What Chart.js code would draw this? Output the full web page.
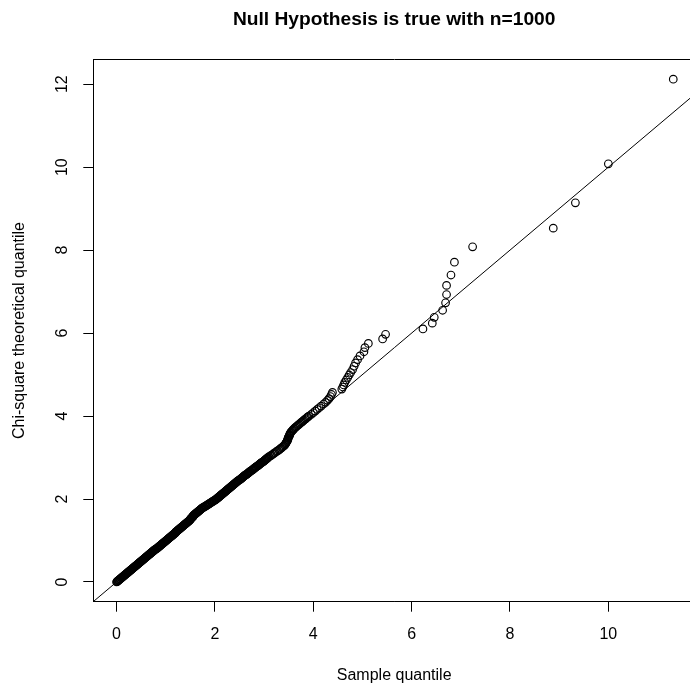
<!DOCTYPE html>
<html>
<head>
<meta charset="utf-8">
<script src="https://cdn.jsdelivr.net/npm/chart.js@4/dist/chart.umd.min.js"></script>
<style>
html,body{margin:0;padding:0;background:#fff;overflow:hidden;width:690px;height:690px;}
canvas{display:block;}
</style>
</head>
<body>
<canvas id="c" width="700" height="690" style="width:700px;height:690px"></canvas>
<script>
// Sample quantiles (x)
const sampleQuantile = [
0.00,0.01,0.02,0.03,0.04,0.05,0.06,0.07,0.08,0.09,
0.10,0.11,0.12,0.13,0.14,0.15,0.16,0.17,0.18,0.19,
0.20,0.21,0.22,0.23,0.24,0.25,0.26,0.27,0.28,0.29,
0.30,0.31,0.32,0.33,0.34,0.35,0.36,0.37,0.38,0.39,
0.40,0.41,0.42,0.43,0.44,0.45,0.46,0.47,0.48,0.49,
0.50,0.51,0.52,0.53,0.54,0.55,0.56,0.57,0.58,0.59,
0.60,0.61,0.62,0.63,0.64,0.65,0.66,0.67,0.68,0.69,
0.70,0.71,0.72,0.73,0.74,0.75,0.76,0.77,0.78,0.79,
0.81,0.82,0.83,0.84,0.85,0.86,0.87,0.88,0.89,0.90,
0.91,0.92,0.93,0.94,0.95,0.96,0.97,0.98,0.99,1.00,
1.01,1.02,1.03,1.04,1.05,1.06,1.07,1.08,1.09,1.10,
1.11,1.12,1.13,1.14,1.15,1.16,1.17,1.18,1.19,1.20,
1.20,1.21,1.22,1.23,1.24,1.25,1.26,1.27,1.28,1.29,
1.30,1.31,1.32,1.33,1.34,1.35,1.36,1.37,1.38,1.39,
1.40,1.41,1.42,1.43,1.44,1.45,1.46,1.47,1.48,1.49,
1.49,1.50,1.51,1.51,1.52,1.53,1.54,1.55,1.55,1.56,
1.56,1.57,1.58,1.59,1.60,1.61,1.62,1.63,1.64,1.65,
1.66,1.67,1.68,1.69,1.70,1.71,1.72,1.73,1.74,1.75,
1.77,1.78,1.80,1.81,1.82,1.84,1.85,1.86,1.88,1.89,
1.90,1.91,1.93,1.94,1.95,1.97,1.98,1.99,2.01,2.02,
2.03,2.04,2.05,2.06,2.07,2.08,2.09,2.10,2.11,2.12,
2.13,2.14,2.15,2.16,2.17,2.18,2.19,2.20,2.21,2.22,
2.23,2.24,2.25,2.26,2.27,2.28,2.29,2.30,2.31,2.32,
2.33,2.34,2.35,2.36,2.37,2.38,2.39,2.40,2.41,2.42,
2.43,2.44,2.45,2.46,2.47,2.48,2.50,2.51,2.52,2.53,
2.54,2.55,2.56,2.57,2.58,2.59,2.60,2.61,2.62,2.64,
2.65,2.66,2.67,2.68,2.69,2.70,2.71,2.72,2.73,2.75,
2.76,2.77,2.78,2.79,2.80,2.81,2.82,2.83,2.84,2.86,
2.87,2.88,2.89,2.90,2.91,2.92,2.93,2.94,2.95,2.97,
2.98,2.99,3.00,3.01,3.02,3.03,3.04,3.05,3.06,3.07,
3.08,3.10,3.13,3.15,3.18,3.20,3.22,3.25,3.27,3.30,
3.32,3.34,3.36,3.38,3.40,3.42,3.43,3.44,3.45,3.46,
3.47,3.48,3.48,3.49,3.49,3.50,3.51,3.52,3.52,3.53,
3.54,3.55,3.57,3.58,3.60,3.61,3.63,3.65,3.67,3.69,
3.71,3.73,3.75,3.77,3.79,3.81,3.83,3.85,3.87,3.89,
3.91,3.96,4.00,4.04,4.08,4.12,4.16,4.21,4.25,4.29,4.32,4.35,4.37,4.39,
4.58,4.60,4.62,4.64,4.67,4.70,4.73,4.76,4.80,4.83,4.86,4.90,4.95,
5.03,5.05,5.12,5.41,5.47,6.23,6.42,6.46,6.63,6.69,6.71,6.71,6.80,6.87,7.24,8.88,9.33,10.00,11.32
];
// Chi-square theoretical quantiles (y)
const chisqQuantile = [
0.00,0.01,0.02,0.03,0.04,0.05,0.06,0.07,0.08,0.09,
0.10,0.11,0.12,0.13,0.14,0.15,0.16,0.17,0.18,0.19,
0.20,0.21,0.22,0.23,0.24,0.25,0.26,0.27,0.28,0.29,
0.30,0.31,0.32,0.33,0.34,0.35,0.36,0.37,0.38,0.39,
0.40,0.41,0.42,0.43,0.44,0.45,0.46,0.47,0.48,0.49,
0.50,0.51,0.52,0.53,0.54,0.55,0.56,0.57,0.58,0.59,
0.60,0.61,0.62,0.63,0.64,0.65,0.66,0.67,0.68,0.69,
0.70,0.71,0.72,0.73,0.74,0.75,0.76,0.77,0.78,0.79,
0.80,0.81,0.82,0.83,0.84,0.85,0.86,0.87,0.88,0.89,
0.90,0.91,0.92,0.93,0.94,0.95,0.96,0.97,0.98,0.99,
1.00,1.01,1.02,1.03,1.04,1.05,1.06,1.07,1.08,1.09,
1.10,1.11,1.12,1.13,1.14,1.15,1.16,1.17,1.18,1.19,
1.20,1.21,1.22,1.23,1.24,1.25,1.26,1.27,1.28,1.29,
1.30,1.31,1.32,1.33,1.34,1.35,1.36,1.37,1.38,1.39,
1.40,1.41,1.42,1.43,1.44,1.45,1.46,1.47,1.48,1.49,
1.50,1.51,1.52,1.53,1.54,1.55,1.56,1.57,1.58,1.59,
1.60,1.61,1.62,1.63,1.64,1.65,1.66,1.67,1.68,1.69,
1.70,1.71,1.72,1.73,1.74,1.75,1.76,1.77,1.78,1.79,
1.80,1.81,1.82,1.83,1.84,1.85,1.86,1.87,1.88,1.89,
1.90,1.91,1.92,1.93,1.94,1.95,1.96,1.97,1.98,1.99,
2.00,2.01,2.02,2.03,2.04,2.05,2.06,2.07,2.08,2.09,
2.10,2.11,2.12,2.13,2.14,2.15,2.16,2.17,2.18,2.19,
2.20,2.21,2.22,2.23,2.24,2.25,2.26,2.27,2.28,2.29,
2.30,2.31,2.32,2.33,2.34,2.35,2.36,2.37,2.38,2.39,
2.40,2.41,2.42,2.43,2.44,2.45,2.46,2.47,2.48,2.49,
2.50,2.51,2.52,2.53,2.54,2.55,2.56,2.57,2.58,2.59,
2.60,2.61,2.62,2.63,2.64,2.65,2.66,2.67,2.68,2.69,
2.70,2.71,2.72,2.73,2.74,2.75,2.76,2.77,2.78,2.79,
2.80,2.81,2.82,2.83,2.84,2.85,2.86,2.87,2.88,2.89,
2.90,2.91,2.92,2.93,2.94,2.95,2.96,2.97,2.98,2.99,
3.00,3.02,3.04,3.06,3.08,3.10,3.12,3.14,3.16,3.18,
3.20,3.22,3.24,3.26,3.28,3.30,3.32,3.34,3.36,3.38,
3.40,3.42,3.44,3.46,3.48,3.50,3.52,3.54,3.56,3.58,
3.60,3.62,3.64,3.66,3.68,3.70,3.72,3.74,3.76,3.78,
3.80,3.82,3.84,3.86,3.88,3.90,3.92,3.94,3.96,3.98,
4.00,4.04,4.08,4.12,4.16,4.20,4.24,4.29,4.33,4.38,4.42,4.47,4.52,4.57,
4.65,4.70,4.75,4.81,4.87,4.93,4.99,5.05,5.12,5.20,5.28,5.36,5.45,
5.55,5.65,5.75,5.86,5.97,6.10,6.24,6.38,6.55,6.73,6.93,7.15,7.40,7.71,8.08,8.53,9.14,10.08,12.12
];
// Reference line y = x
const refLineX = [-1, 14];
const refLineY = [-1, 14];
const xTickValues = [0, 2, 4, 6, 8, 10];
const yTickValues = [0, 2, 4, 6, 8, 10, 12];
const titleText = 'Null Hypothesis is true with n=1000';
const xTitle = 'Sample quantile';
const yTitle = 'Chi-square theoretical quantile';

const points = sampleQuantile.map((x, i) => ({x: x, y: chisqQuantile[i]}));
const line = refLineX.map((x, i) => ({x: x, y: refLineY[i]}));

const FONT = "'Liberation Sans', Arial, Helvetica, sans-serif";

const boxPlugin = {
  id: 'box',
  afterDatasetsDraw(chart) {
    const a = chart.chartArea, ctx = chart.ctx;
    ctx.save();
    ctx.strokeStyle = '#000';
    ctx.lineWidth = 1;
    ctx.beginPath();
    ctx.rect(Math.round(a.left) + 0.5, Math.round(a.top) + 0.5, Math.round(a.right - a.left), Math.round(a.bottom - a.top));
    ctx.stroke();
    ctx.restore();
  }
};

new Chart(document.getElementById('c'), {
  data: {
    datasets: [
      {
        type: 'scatter',
        data: points,
        pointStyle: 'circle',
        pointRadius: 3.8,
        pointHoverRadius: 3.8,
        borderWidth: 1.15,
        borderColor: '#000',
        backgroundColor: 'rgba(0,0,0,0)',
        order: 2
      },
      {
        type: 'line',
        data: line,
        borderColor: '#000',
        borderWidth: 1,
        pointRadius: 0,
        fill: false,
        tension: 0,
        order: 1
      }
    ]
  },
  options: {
    responsive: false,
    animation: false,
    events: [],
    layout: { padding: { left: 0, top: 0, bottom: 0, right: 1 } },
    plugins: {
      legend: { display: false },
      tooltip: { enabled: false },
      title: {
        display: true,
        text: titleText,
        fullSize: false,
        color: '#000',
        font: { family: FONT, size: 19.2, weight: 'bold', lineHeight: 1.2 },
        padding: { top: 8.5, bottom: 27.76 }
      }
    },
    scales: {
      x: {
        type: 'linear',
        position: 'bottom',
        min: -0.473,
        max: 11.763,
        afterFit(s) { s.height = 88.3; },
        afterBuildTicks(s) { s.ticks = xTickValues.map(v => ({value: v})); },
        ticks: { color: '#000', font: { family: FONT, size: 16 }, padding: 13.2, maxRotation: 0, includeBounds: false, autoSkip: false },
        grid: { drawOnChartArea: false, drawTicks: true, tickLength: 10, color: '#000', tickColor: '#000', lineWidth: 1 },
        border: { display: true, color: '#000', width: 1 },
        title: { display: true, text: xTitle, color: '#000', font: { family: FONT, size: 16, lineHeight: 1.2 }, padding: { top: 0, bottom: 4.4 } }
      },
      y: {
        type: 'linear',
        position: 'left',
        min: -0.475,
        max: 12.60,
        afterFit(s) { s.width = 93.3; },
        afterBuildTicks(s) { s.ticks = yTickValues.map(v => ({value: v})); },
        ticks: { color: '#000', font: { family: FONT, size: 16 }, padding: 11.4, minRotation: 90, maxRotation: 90, crossAlign: 'center', includeBounds: false, autoSkip: false },
        grid: { drawOnChartArea: false, drawTicks: true, tickLength: 10, color: '#000', tickColor: '#000', lineWidth: 1 },
        border: { display: true, color: '#000', width: 1 },
        title: { display: true, text: yTitle, color: '#000', font: { family: FONT, size: 16, lineHeight: 1.2 }, padding: { top: 10.4, bottom: 0 } }
      }
    }
  },
  plugins: [boxPlugin]
});
</script>
</body>
</html>
